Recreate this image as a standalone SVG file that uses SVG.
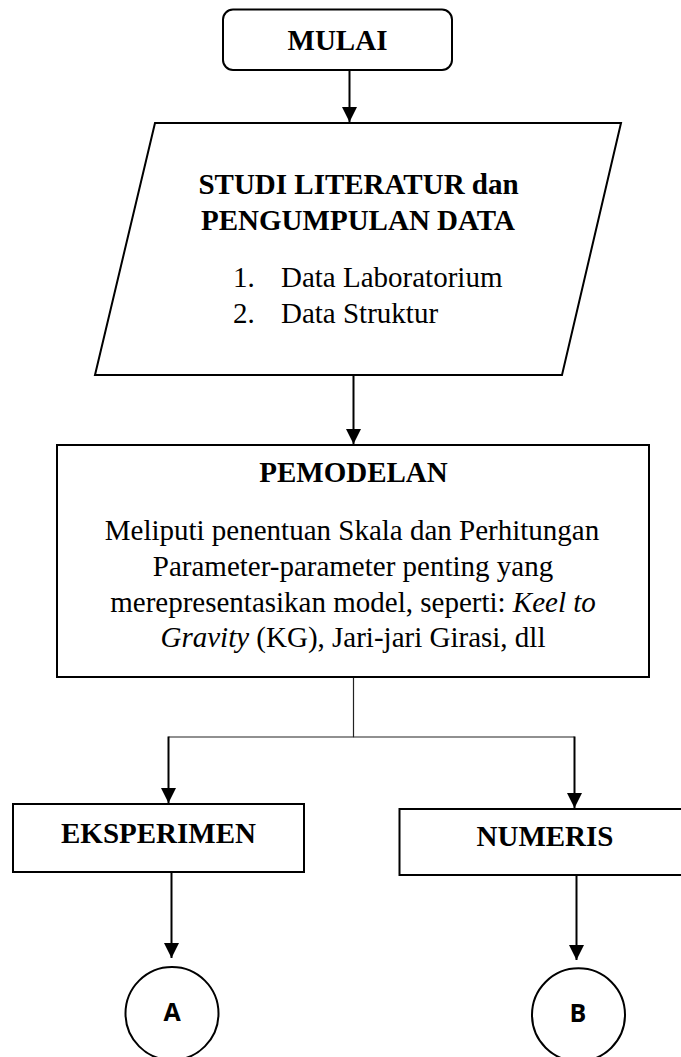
<svg xmlns="http://www.w3.org/2000/svg" width="681" height="1057" viewBox="0 0 681 1057">
<style>
.shape{fill:#fff;stroke:#000;stroke-width:2}
.t{font-family:"Liberation Serif","Times New Roman",serif;font-size:29px;fill:#000}
.b{font-weight:bold}
.c{text-anchor:middle}
.s{font-family:"Open Sans","Liberation Sans",sans-serif;font-weight:bold;font-size:25px;text-anchor:middle;fill:#000}
.arr{fill:none;stroke:#000;stroke-width:2;marker-end:url(#ah)}
.thin{fill:none;stroke:#222;stroke-width:1.2}
</style>
<defs>
<marker id="ah" markerUnits="userSpaceOnUse" markerWidth="15" markerHeight="15" refX="15" refY="7.5" orient="auto">
<path d="M0,0 L15,7.5 L0,15 z" fill="#000"/>
</marker>
</defs>
<rect width="681" height="1057" fill="#fff"/>
<g id="connectors">
<line class="arr" x1="349.5" y1="70" x2="349.5" y2="122"/>
<line class="arr" x1="353.5" y1="375" x2="353.5" y2="444"/>
<polyline class="thin" points="353.5,678 353.5,737 168.5,737"/>
<line class="thin" x1="353.5" y1="737" x2="574.5" y2="737"/>
<line class="arr" x1="168.5" y1="736.5" x2="168.5" y2="803"/>
<line class="arr" x1="574.5" y1="736.5" x2="574.5" y2="808"/>
<line class="arr" x1="171.5" y1="872" x2="171.5" y2="958"/>
<line class="arr" x1="576.5" y1="875" x2="576.5" y2="960"/>
</g>
<g id="mulai">
<rect class="shape" x="223" y="9.5" width="229" height="60.5" rx="10" ry="10"/>
<text class="t b c" x="337.5" y="50">MULAI</text>
</g>
<g id="studi">
<polygon class="shape" points="155,123 621,123 562,375 95,375"/>
<text class="t b c" x="358.5" y="194">STUDI LITERATUR dan</text>
<text class="t b c" x="358" y="230">PENGUMPULAN DATA</text>
<text class="t" x="233" y="287">1.</text>
<text class="t" x="281" y="287">Data Laboratorium</text>
<text class="t" x="233" y="323">2.</text>
<text class="t" x="281" y="323">Data Struktur</text>
</g>
<g id="pemodelan">
<rect class="shape" x="57" y="445" width="592" height="232"/>
<text class="t b c" x="353.5" y="482">PEMODELAN</text>
<text class="t c" x="352" y="540">Meliputi penentuan Skala dan Perhitungan</text>
<text class="t c" x="353" y="576">Parameter-parameter penting yang</text>
<text class="t c" x="353" y="611.5">merepresentasikan model, seperti: <tspan font-style="italic">Keel to</tspan></text>
<text class="t c" x="353" y="647"><tspan font-style="italic">Gravity</tspan> (KG), Jari-jari Girasi, dll</text>
</g>
<g id="eksperimen">
<rect class="shape" x="13" y="804" width="291" height="68"/>
<text class="t b c" x="158.5" y="843">EKSPERIMEN</text>
</g>
<g id="numeris">
<rect class="shape" x="399.5" y="809" width="295" height="66"/>
<text class="t b c" x="545" y="846">NUMERIS</text>
</g>
<g id="a">
<circle class="shape" cx="172" cy="1013.5" r="46.5"/>
<text class="s" x="172" y="1021">A</text>
</g>
<g id="b">
<circle class="shape" cx="578.5" cy="1014.8" r="46.5"/>
<text class="s" x="578" y="1021.5">B</text>
</g>
</svg>
